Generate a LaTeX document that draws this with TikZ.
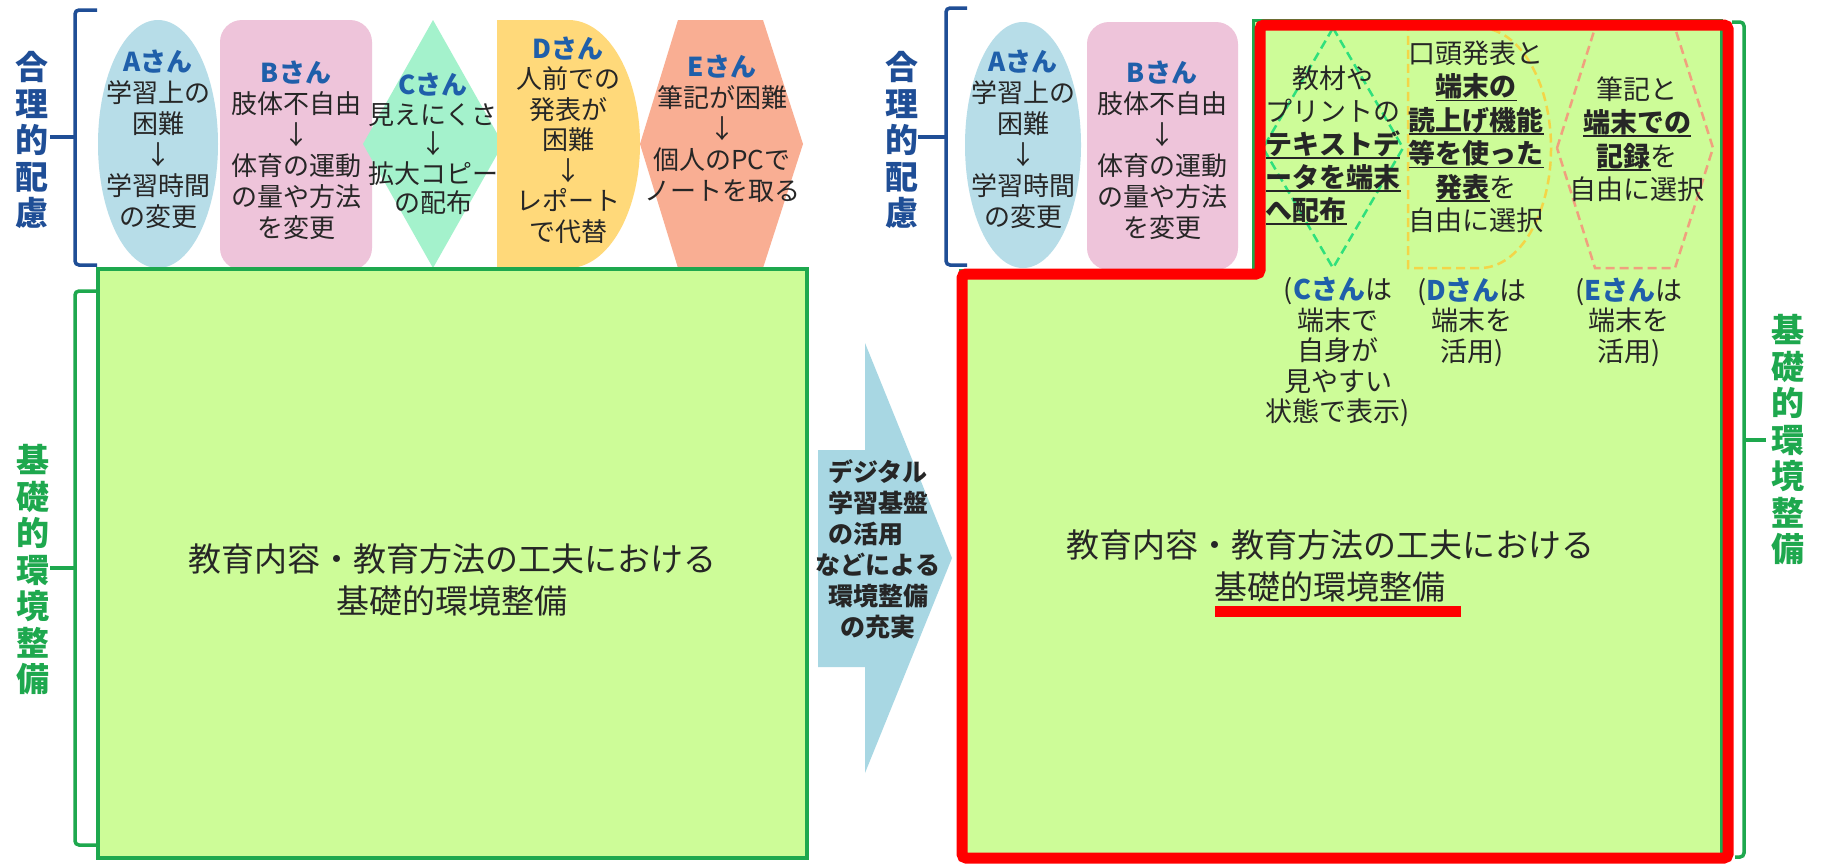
\documentclass[tikz,border=0pt]{standalone}
\usepackage{fontspec}
\setmainfont{Noto Sans CJK JP}
\definecolor{ink}{HTML}{262626}
\definecolor{nameblue}{HTML}{1F5FAA}
\definecolor{bracketblue}{HTML}{1F4E96}
\definecolor{gline}{HTML}{1EA84E}
\definecolor{gfill}{HTML}{CDFC98}
\definecolor{fillA}{HTML}{B7DDE8}
\definecolor{fillB}{HTML}{EEC4DA}
\definecolor{fillC}{HTML}{A4F2CC}
\definecolor{fillD}{HTML}{FFD97A}
\definecolor{fillE}{HTML}{F9AE93}
\definecolor{arrowblue}{HTML}{A8D7E3}
\definecolor{dashC}{HTML}{2FE07C}
\definecolor{dashD}{HTML}{F3D548}
\definecolor{dashE}{HTML}{F0A07E}
\newcommand\sn[1]{\textcolor{nameblue}{\textbf{#1}}}
\newcommand\myul[1]{\setbox0\hbox{\textbf{#1}}\rlap{\rule[-4.5pt]{\wd0}{1.8pt}}\box0}
\begin{document}
\begin{tikzpicture}[x=1pt,y=-1pt,
  body/.style={font=\fontsize{26}{31}\selectfont, text=ink, align=center, inner sep=0pt},
  bodyr/.style={font=\fontsize{27}{33.5}\selectfont, text=ink, align=center, inner sep=0pt},
  sidelbl/.style={font=\fontsize{33}{36.5}\selectfont\bfseries, align=center, inner sep=0pt},
  mainlbl/.style={font=\fontsize{33}{42}\selectfont, text=ink, align=center, inner sep=0pt},
  bracketline/.style={line width=3.5pt, rounded corners=4pt},
  dashline/.style={line width=2.5pt, dash pattern=on 9pt off 5pt},
]
\useasboundingbox (0,0) rectangle (1825,863);
\fill[white] (0,0) rectangle (1825,863);

% ---------- left shapes ----------
\fill[fillA] (158,144) ellipse [x radius=60, y radius=124];
\fill[fillB, rounded corners=22pt] (220,20) rectangle (372,270);
\fill[fillC] (433,20) -- (503,144) -- (433,268) -- (363,144) -- cycle;
\fill[fillD] (497,20) -- (568.5,20) .. controls (608,20) and (640,75.5) .. (640,144)
  .. controls (640,212.5) and (608,268) .. (568.5,268) -- (497,268) -- cycle;
\fill[fillE] (640,144) -- (678,20) -- (763,20) -- (803,144) -- (763,268) -- (678,268) -- cycle;

% left green box
\filldraw[fill=gfill, draw=gline, line width=4pt] (98,269) rectangle (807,858);

% big arrow
\fill[arrowblue] (818,450) -- (865,450) -- (865,343) -- (952,558) -- (865,773) -- (865,667) -- (818,667) -- cycle;

% ---------- right side ----------
\filldraw[fill=gfill, draw=gline, line width=3pt] (1253,20) -- (1721,20) -- (1721,858) -- (960,858) -- (960,270) -- (1253,270) -- cycle;
\fill[fillA] (1023,145) ellipse [x radius=58, y radius=123];
\fill[fillB, rounded corners=22pt] (1087,22) rectangle (1238,270);

\draw[dashC, dashline] (1333,28) -- (1403,148) -- (1333,268) -- (1263,148) -- cycle;
\draw[dashD, dashline] (1408,28) -- (1480,28) .. controls (1519.2,28) and (1551,81.7) .. (1551,148)
  .. controls (1551,214.3) and (1519.2,268) .. (1480,268) -- (1408,268) -- cycle;
\draw[dashE, dashline] (1557,148) -- (1595,28) -- (1675,28) -- (1713,148) -- (1675,268) -- (1595,268) -- cycle;

\draw[red, line width=11pt, rounded corners=4pt] (1260,25) -- (1728,25) -- (1728,858) -- (962,858) -- (962,274) -- (1260,274) -- cycle;

% ---------- brackets ----------
\draw[bracketblue, bracketline] (97,10) -- (75,10) -- (75,265) -- (97,265);
\draw[bracketblue, line width=3.5pt] (75,137) -- (50,137);
\draw[gline, bracketline] (97,291) -- (75,291) -- (75,845) -- (97,845);
\draw[gline, line width=3.5pt] (75,568) -- (50,568);
\draw[bracketblue, bracketline] (967,8) -- (946,8) -- (946,265) -- (967,265);
\draw[bracketblue, line width=3.5pt] (946,137) -- (918,137);
\draw[gline, bracketline] (1732,22) -- (1744,22) -- (1744,857) -- (1735,857);
\draw[gline, line width=3.5pt] (1744,440) -- (1766,440);

% ---------- side labels ----------
\node[sidelbl, text=bracketblue] (lblL1) at (32,140) {合\\理\\的\\配\\慮};
\node[sidelbl, text=gline] (lblL2) at (33,570) {基\\礎\\的\\環\\境\\整\\備};
\node[sidelbl, text=bracketblue] (lblR1) at (902,140) {合\\理\\的\\配\\慮};
\node[sidelbl, text=gline] (lblR2) at (1788,440) {基\\礎\\的\\環\\境\\整\\備};

% ---------- left texts ----------
\node[body] (tA) at (158,139) {\sn{Aさん}\\学習上の\\困難\\↓\\学習時間\\の変更};
\node[body] (tB) at (296,150) {\sn{Bさん}\\肢体不自由\\↓\\体育の運動\\の量や方法\\を変更};
\node[body, font=\fontsize{26}{29.5}\selectfont] (tC) at (433,144) {\sn{Cさん}\\見えにくさ\\↓\\拡大コピー\\の配布};
\node[body, font=\fontsize{26}{30.5}\selectfont] (tD) at (568,140) {\sn{Dさん}\\人前での\\発表が\\困難\\↓\\レポート\\で代替};
\node[body] (tE) at (722,129) {\sn{Eさん}\\筆記が困難\\↓\\個人のPCで\\ノートを取る};

\node[mainlbl] (mainL) at (452,580) {教育内容・教育方法の工夫における\\基礎的環境整備};

% arrow text
\node[font=\fontsize{25}{31}\selectfont\bfseries, text=ink, align=center, inner sep=0pt] (arrowtxt) at (878,549)
  {デジタル\\学習基盤\\の活用\hphantom{あ}\\などによる\\環境整備\\の充実};

% ---------- right texts ----------
\node[body] (tA2) at (1023,139) {\sn{Aさん}\\学習上の\\困難\\↓\\学習時間\\の変更};
\node[body] (tB2) at (1162,150) {\sn{Bさん}\\肢体不自由\\↓\\体育の運動\\の量や方法\\を変更};

\node[bodyr, font=\fontsize{27}{33}\selectfont] (tC2) at (1333,145) {教材や\\プリントの\\\myul{テキストデ}\\\myul{ータを端末}\\\myul{へ配布}\hphantom{ータ}};
\node[bodyr] (tD2) at (1476,137) {口頭発表と\\\myul{端末の}\\\myul{読上げ機能}\\\myul{等を使った}\\\myul{発表}を\\自由に選択};
\node[bodyr] (tE2) at (1637,139) {筆記と\\\myul{端末での}\\\myul{記録}を\\自由に選択};

\node[bodyr, font=\fontsize{27}{30.5}\selectfont] (uC) at (1338,352) {(\sn{Cさん}は\\端末で\\自身が\\見やすい\\状態で表示)};
\node[bodyr, font=\fontsize{27}{30.5}\selectfont] (uD) at (1472,322) {(\sn{Dさん}は\\端末を\\活用)};
\node[bodyr, font=\fontsize{27}{30.5}\selectfont] (uE) at (1629,322) {(\sn{Eさん}は\\端末を\\活用)};

\node[mainlbl] (mainR) at (1330,566) {教育内容・教育方法の工夫における\\基礎的環境整備};
\fill[red] (1215,606) rectangle (1461,617);
\end{tikzpicture}
\end{document}
